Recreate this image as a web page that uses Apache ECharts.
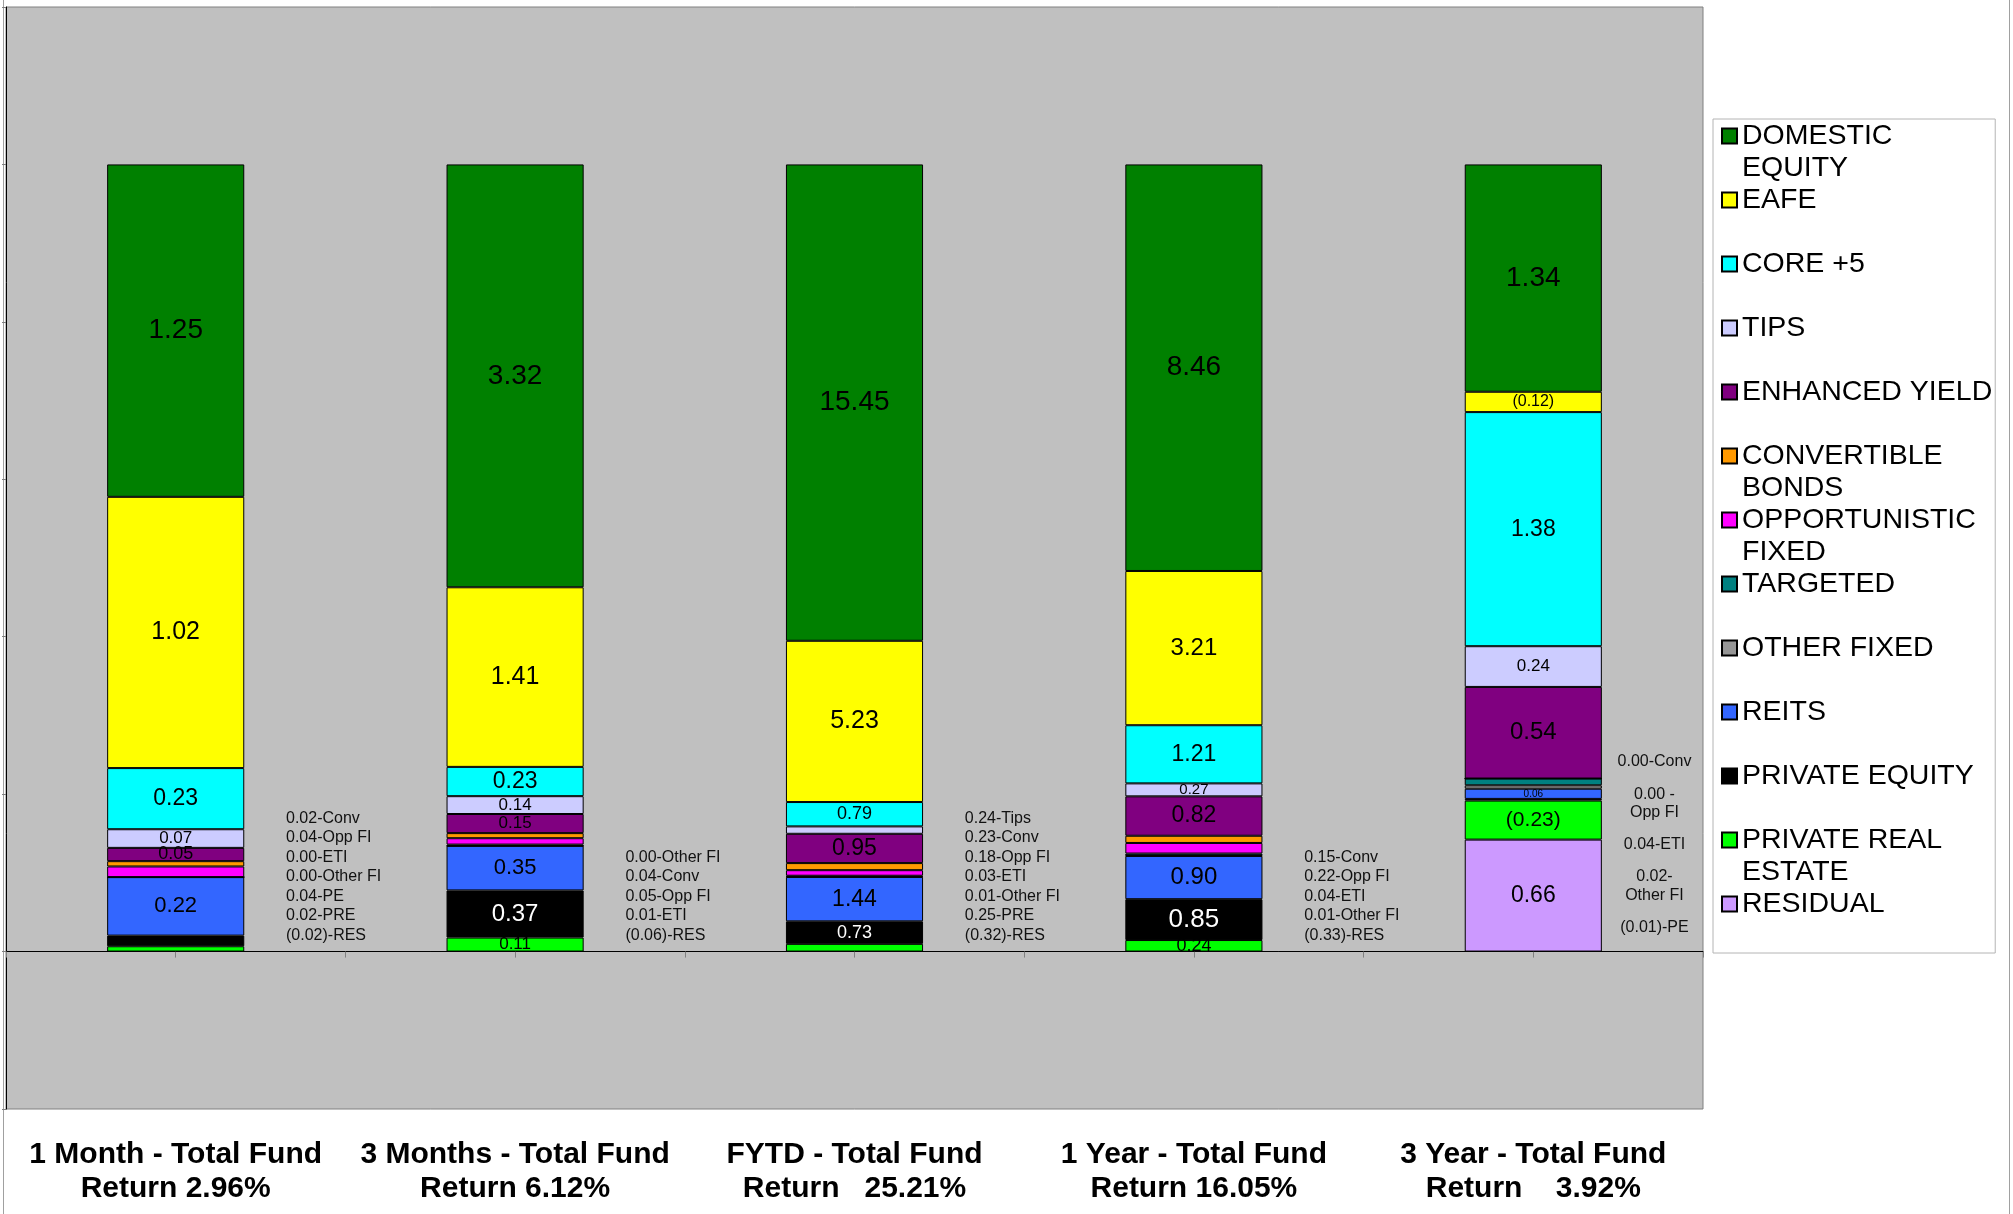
<!DOCTYPE html>
<html>
<head>
<meta charset="utf-8">
<script src="https://cdn.jsdelivr.net/npm/echarts@6/dist/echarts.min.js"></script>
<style>
  html, body { margin: 0; padding: 0; background: #ffffff; }
  #chart { width: 2013px; height: 1214px; }
</style>
</head>
<body>
<div id="chart"></div>
<script>
// Periods shown along the x axis
const PERIODS = ['1 Month - Total Fund', '3 Months - Total Fund', 'FYTD - Total Fund', '1 Year - Total Fund', '3 Year - Total Fund'];
const RETURNS = ['Return 2.96%', 'Return 6.12%', 'Return   25.21%', 'Return 16.05%', 'Return    3.92%'];

// Contribution to total fund return by asset class (percentage points)
const DOMESTIC_EQUITY     = [1.25, 3.32, 15.45, 8.46, 1.34];
const EAFE                = [1.02, 1.41, 5.23, 3.21, -0.12];
const CORE_PLUS_5         = [0.23, 0.23, 0.79, 1.21, 1.38];
const TIPS                = [0.07, 0.14, 0.24, 0.27, 0.24];
const ENHANCED_YIELD      = [0.05, 0.15, 0.95, 0.82, 0.54];
const CONVERTIBLE_BONDS   = [0.02, 0.04, 0.23, 0.15, 0.00];
const OPPORTUNISTIC_FIXED = [0.04, 0.05, 0.18, 0.22, 0.00];
const TARGETED            = [0.00, 0.01, 0.03, 0.04, 0.04];
const OTHER_FIXED         = [0.00, 0.00, 0.01, 0.01, 0.02];
const REITS               = [0.22, 0.35, 1.44, 0.90, 0.06];
const PRIVATE_EQUITY      = [0.04, 0.37, 0.73, 0.85, -0.01];
const PRIVATE_REAL_ESTATE = [0.02, 0.11, 0.25, 0.24, -0.23];
const RESIDUAL            = [null, null, null, null, 0.66];

// Side notes for the small contributions of each period
const NOTES_1M   = ['0.02-Conv', '0.04-Opp FI', '0.00-ETI', '0.00-Other FI', '0.04-PE', '0.02-PRE', '(0.02)-RES'];
const NOTES_3M   = ['0.00-Other FI', '0.04-Conv', '0.05-Opp FI', '0.01-ETI', '(0.06)-RES'];
const NOTES_FYTD = ['0.24-Tips', '0.23-Conv', '0.18-Opp FI', '0.03-ETI', '0.01-Other FI', '0.25-PRE', '(0.32)-RES'];
const NOTES_1Y   = ['0.15-Conv', '0.22-Opp FI', '0.04-ETI', '0.01-Other FI', '(0.33)-RES'];
const NOTES_3Y   = ['0.00-Conv', '0.00 -\nOpp FI', '0.04-ETI', '0.02-\nOther FI', '(0.01)-PE'];

// Stacking order, bottom segment first
const STACK = [
  ['RESIDUAL', RESIDUAL],
  ['PRIVATE REAL ESTATE', PRIVATE_REAL_ESTATE],
  ['PRIVATE EQUITY', PRIVATE_EQUITY],
  ['REITS', REITS],
  ['OTHER FIXED', OTHER_FIXED],
  ['TARGETED', TARGETED],
  ['OPPORTUNISTIC FIXED', OPPORTUNISTIC_FIXED],
  ['CONVERTIBLE BONDS', CONVERTIBLE_BONDS],
  ['ENHANCED YIELD', ENHANCED_YIELD],
  ['TIPS', TIPS],
  ['CORE +5', CORE_PLUS_5],
  ['EAFE', EAFE],
  ['DOMESTIC EQUITY', DOMESTIC_EQUITY]
];

const COLORS = {
  'DOMESTIC EQUITY': '#008000',
  'EAFE': '#FFFF00',
  'CORE +5': '#00FFFF',
  'TIPS': '#CCCCFF',
  'ENHANCED YIELD': '#800080',
  'CONVERTIBLE BONDS': '#FF9900',
  'OPPORTUNISTIC FIXED': '#FF00FF',
  'TARGETED': '#008080',
  'OTHER FIXED': '#969696',
  'REITS': '#3366FF',
  'PRIVATE EQUITY': '#000000',
  'PRIVATE REAL ESTATE': '#00FF00',
  'RESIDUAL': '#CC99FF'
};

// Legend wording (wrapped as in the key box)
const LEGEND_TEXT = {
  'DOMESTIC EQUITY': 'DOMESTIC\nEQUITY',
  'EAFE': 'EAFE',
  'CORE +5': 'CORE +5',
  'TIPS': 'TIPS',
  'ENHANCED YIELD': 'ENHANCED YIELD',
  'CONVERTIBLE BONDS': 'CONVERTIBLE\nBONDS',
  'OPPORTUNISTIC FIXED': 'OPPORTUNISTIC\nFIXED',
  'TARGETED': 'TARGETED',
  'OTHER FIXED': 'OTHER FIXED',
  'REITS': 'REITS',
  'PRIVATE EQUITY': 'PRIVATE EQUITY',
  'PRIVATE REAL ESTATE': 'PRIVATE REAL\nESTATE',
  'RESIDUAL': 'RESIDUAL'
};

// Font size of the value label inside each segment (0 = no label)
const LABEL_SIZE = {
  'DOMESTIC EQUITY':     [28, 28, 28, 28, 28],
  'EAFE':                [25, 25, 25, 24, 16],
  'CORE +5':             [23, 23, 18, 23, 23],
  'TIPS':                [17, 17, 0, 15, 17],
  'ENHANCED YIELD':      [18, 17, 23, 23, 24],
  'CONVERTIBLE BONDS':   [0, 0, 0, 0, 0],
  'OPPORTUNISTIC FIXED': [0, 0, 0, 0, 0],
  'TARGETED':            [0, 0, 0, 0, 0],
  'OTHER FIXED':         [0, 0, 0, 0, 0],
  'REITS':               [22, 22, 23, 24, 10],
  'PRIVATE EQUITY':      [0, 24, 18, 26, 0],
  'PRIVATE REAL ESTATE': [0, 17, 0, 18, 21],
  'RESIDUAL':            [0, 0, 0, 0, 23]
};

const FONT = "'Liberation Sans', Arial, Helvetica, sans-serif";

function fmtValue(v) {
  return v < 0 ? '(' + Math.abs(v).toFixed(2) + ')' : v.toFixed(2);
}

// Each column is scaled to 100% of the summed magnitudes of its segments
const totals = PERIODS.map((_, i) =>
  STACK.reduce((s, [, arr]) => s + (arr[i] == null ? 0 : Math.abs(arr[i])), 0));

const series = STACK.map(([name, arr]) => ({
  name: name,
  type: 'bar',
  stack: 'fund',
  xAxisIndex: 1,
  yAxisIndex: 0,
  barWidth: '40.4%',
  itemStyle: { color: COLORS[name], borderColor: '#000000', borderWidth: 1 },
  emphasis: { disabled: true },
  label: {
    show: true,
    position: 'inside',
    fontFamily: FONT,
    color: name === 'PRIVATE EQUITY' ? '#ffffff' : '#000000',
    formatter: p => fmtValue(p.data.raw)
  },
  data: arr.map((v, i) => v == null ? null : {
    value: Math.abs(v) / totals[i] * 100,
    raw: v,
    label: { show: LABEL_SIZE[name][i] > 0, fontSize: LABEL_SIZE[name][i] || 12 }
  })
}));

const legendOrder = STACK.map(s => s[0]).reverse();

const chart = echarts.init(document.getElementById('chart'), null, { renderer: 'canvas' });

chart.setOption({
  animation: false,
  backgroundColor: '#ffffff',
  grid: {
    left: 6, right: 310, top: 7, bottom: 105,
    show: true,
    containLabel: false,
    outerBoundsMode: 'none',
    backgroundColor: '#C0C0C0',
    borderColor: '#808080',
    borderWidth: 1
  },
  legend: {
    orient: 'vertical',
    left: 1713,
    top: 119,
    padding: [0, 3, 0, 8],
    itemGap: -2,
    itemWidth: 15,
    itemHeight: 64,
    icon: 'path://M0,0 L0,0 M0,8.5 L15,8.5 L15,23.5 L0,23.5 Z M0,64 L0,64',
    selectedMode: false,
    backgroundColor: '#ffffff',
    borderColor: '#b4b4b4',
    borderWidth: 1,
    borderRadius: 0,
    textStyle: { fontFamily: FONT, fontSize: 28.5, lineHeight: 32, color: '#000000' },
    formatter: name => {
      const t = LEGEND_TEXT[name];
      return t.indexOf('\n') >= 0 ? t : t + '\n ';
    },
    data: legendOrder
  },
  xAxis: [{
    // period captions beneath the plot
    type: 'category',
    data: PERIODS,
    position: 'bottom',
    axisLine: { show: false, onZero: false },
    axisTick: { show: false },
    axisLabel: {
      show: true,
      interval: 0,
      margin: 29,
      fontFamily: FONT,
      fontSize: 30,
      fontWeight: 'bold',
      lineHeight: 34,
      color: '#000000',
      formatter: (v, i) => v + '\n' + RETURNS[i]
    },
    splitLine: { show: false }
  }, {
    // zero line with ticks between periods
    type: 'category',
    data: PERIODS,
    position: 'bottom',
    axisLine: { show: true, onZero: true, onZeroAxisIndex: 0, lineStyle: { color: '#000000', width: 1 } },
    axisTick: { show: true, length: 6, lineStyle: { color: '#808080' } },
    axisLabel: { show: false },
    splitLine: { show: false }
  }, {
    // ticks at each column centre
    type: 'category',
    data: PERIODS,
    position: 'bottom',
    axisLine: { show: false, onZero: true, onZeroAxisIndex: 1 },
    axisTick: { show: true, alignWithLabel: true, length: 6, lineStyle: { color: '#808080' } },
    axisLabel: { show: false },
    splitLine: { show: false }
  }],
  yAxis: [{
    type: 'value',
    min: -20, max: 120, interval: 20,
    axisLine: { show: true, onZero: false, lineStyle: { color: '#000000', width: 1 } },
    axisTick: { show: true, length: 4, lineStyle: { color: '#808080' } },
    axisLabel: { show: false },
    splitLine: { show: false }
  }, {
    type: 'value',
    min: -20, max: 120, interval: 20,
    position: 'left',
    axisLine: { show: false, onZero: false },
    axisTick: { show: false },
    axisLabel: { show: false },
    splitLine: { show: false }
  }],
  series: series
});

// Side notes listing the smaller contributions, anchored to the axis
function placeNotes() {
  const groups = [NOTES_1M, NOTES_3M, NOTES_FYTD, NOTES_1Y, NOTES_3Y];
  const zeroY = chart.convertToPixel({ yAxisIndex: 0 }, 0);
  const x0 = chart.convertToPixel({ xAxisIndex: 1 }, 0);
  const x1 = chart.convertToPixel({ xAxisIndex: 1 }, 1);
  const step = x1 - x0;
  const elements = [];
  groups.forEach((notes, g) => {
    const cx = chart.convertToPixel({ xAxisIndex: 1 }, g);
    const last = g === groups.length - 1;
    const x = last ? cx + 0.357 * step : cx + 0.325 * step;
    const bottom = last ? zeroY - 24 : zeroY - 16;
    const pitch = last ? 41.4 : 19.5;
    const n = notes.length;
    notes.forEach((txt, k) => {
      elements.push({
        type: 'text',
        x: x,
        y: bottom - (n - 1 - k) * pitch,
        silent: true,
        style: {
          text: txt,
          fontFamily: FONT,
          fontSize: 16,
          lineHeight: 18.5,
          fill: '#111111',
          align: last ? 'center' : 'left',
          verticalAlign: 'middle'
        }
      });
    });
  });
  // thin frame lines at the chart area's sides
  elements.push({
    type: 'rect',
    silent: true,
    shape: { x: 3.5, y: -5, width: 2006, height: 1230 },
    style: { fill: 'none', stroke: '#a0a0a0', lineWidth: 1 },
    z: -1
  });
  chart.setOption({ graphic: elements });
}
placeNotes();
</script>
</body>
</html>
